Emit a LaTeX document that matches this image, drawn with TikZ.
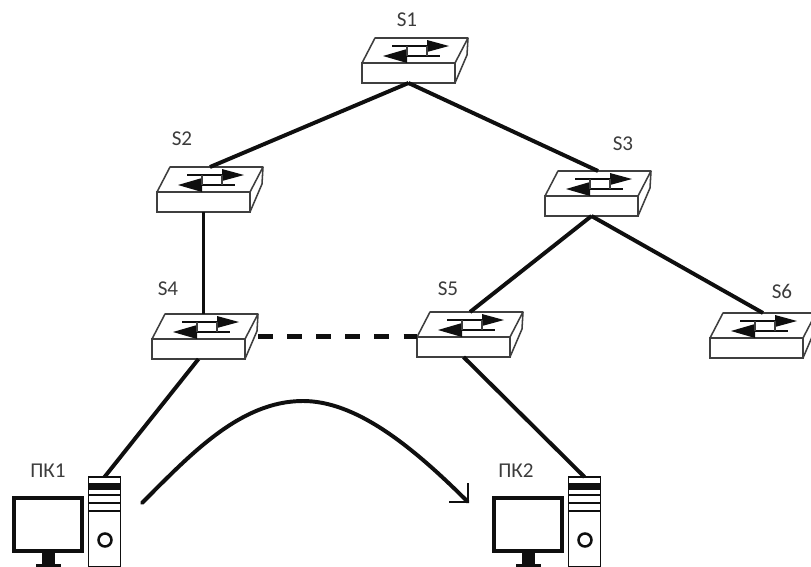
\documentclass[tikz,border=0pt]{standalone}
\usepackage{fontspec}
\setmainfont{Carlito}
\usetikzlibrary{arrows.meta,positioning,calc}
\definecolor{netblack}{RGB}{15,15,15}
\definecolor{labelgray}{RGB}{60,60,60}
\tikzset{
  switchbody/.style={minimum width=2.65cm, minimum height=1.125cm, inner sep=0pt, outer sep=0pt},
  switchfront/.style={draw=netblack!80, line width=1.1pt, minimum width=2.325cm, minimum height=0.5cm, inner sep=0pt, outer sep=0pt},
  iconline/.style={draw=netblack!80, line width=1.1pt, line join=round},
  towerbox/.style={draw=netblack, line width=1.4pt, minimum width=0.8cm, minimum height=2.25cm, inner sep=0pt, outer sep=0pt},
  screenbox/.style={draw=netblack, line width=2.8pt, minimum width=1.68cm, minimum height=1.32cm, inner sep=0pt, outer sep=0pt},
  netlink/.style={draw=netblack, line width=2.8pt},
  netlabel/.style={font=\fontsize{15}{17}\selectfont, text=labelgray, inner sep=0pt}
}
\newcommand{\switchicon}[3]{%
  \begin{scope}[shift={(#2,#3)}]
    \node[switchbody] (#1) at (53,-2.5) {};
    \node[switchfront] (#1f) at (46.5,10) {};
    \draw[iconline] (0,0) -- (13,-25) -- (106,-25) -- (93,0);
    \draw[iconline] (106,-25) -- (105,-8) -- (93,20);
    % two arrows on the lid
    \fill[netblack] (87,-17) -- (65,-23) -- (65,-11) -- cycle;
    \fill[netblack] (21,-7) -- (45,-14) -- (45,0) -- cycle;
    \draw[netblack, line width=1.5pt] (30,-17) -- (65,-17) (45,-7) -- (78,-7);
    \draw[iconline] (45,-17) -- (45,-7) (65,-17) -- (65,-7);
  \end{scope}}
\newcommand{\pcicon}[2]{%
  \begin{scope}[shift={(#2,0)}]
    \node[towerbox] (#1) at (104.5,522) {};
    \node[screenbox] (#1s) at (48,524.5) {};
    \fill[netblack] (89,483) rectangle (120,490);
    \draw[netblack, line width=1.2pt] (89,495) -- (120,495) (89,503) -- (120,503);
    \draw[netblack, line width=1.8pt] (89,511) -- (120,511);
    \draw[netblack, line width=1.8pt] (105,540) circle (6.5);
    \fill[netblack] (42,552) rectangle (55,565);
    \fill[netblack] (36,564) rectangle (61,567);
  \end{scope}}
\begin{document}
\begin{tikzpicture}[x=0.025cm, y=-0.025cm]
  \useasboundingbox (0,0) rectangle (811,567);
  \clip (0,0) rectangle (811,567);

  % Switches
  \switchicon{s1}{362}{63}
  \switchicon{s2}{157}{192}
  \switchicon{s3}{545}{196}
  \switchicon{s4}{152}{339}
  \switchicon{s5}{417}{337}
  \switchicon{s6}{710}{338}

  % Computers
  \pcicon{pc1}{0}
  \pcicon{pc2}{480}

  % Labels
  \node[netlabel] (lbl1) at (407,20) {S1};
  \node[netlabel] (lbl2) at (182,139) {S2};
  \node[netlabel] (lbl3) at (623,144) {S3};
  \node[netlabel] (lbl4) at (168,289) {S4};
  \node[netlabel] (lbl5) at (448,289) {S5};
  \node[netlabel] (lbl6) at (782,291) {S6};
  \node[netlabel] (lblpc1) at (48,471) {ПК1};
  \node[netlabel] (lblpc2) at (516,471) {ПК2};

  % Links
  \draw[netlink] (s1f.south) -- (s2.north);
  \draw[netlink] (s1f.south) -- (s3.north);
  \draw[netlink] (s2f.south) -- (s2f.south |- s4.north);
  \draw[netlink] (s3f.south) -- (s5.north);
  \draw[netlink] (s3f.south) -- (s6.north);
  \draw[netlink, line width=3.4pt, dash pattern=on 10.7pt off 10pt] (s4.east) -- (s4.east -| s5.west);
  \draw[netlink] (s4f.south) -- (pc1.north);
  \draw[netlink] (s5f.south) -- (pc2.north);

  % Path of the frame
  \coordinate (flowstart) at (142,503);
  \coordinate (flowpeak) at (303,401);
  \coordinate (flowend) at (469,503);
  \draw[netlink, line cap=round, -{Straight Barb[length=9.5pt, width=19pt, line width=1.1pt]}] (flowstart) .. controls (190,455) and (240,401) .. (flowpeak) .. controls (355,401) and (410,444) .. (flowend);
\end{tikzpicture}
\end{document}
